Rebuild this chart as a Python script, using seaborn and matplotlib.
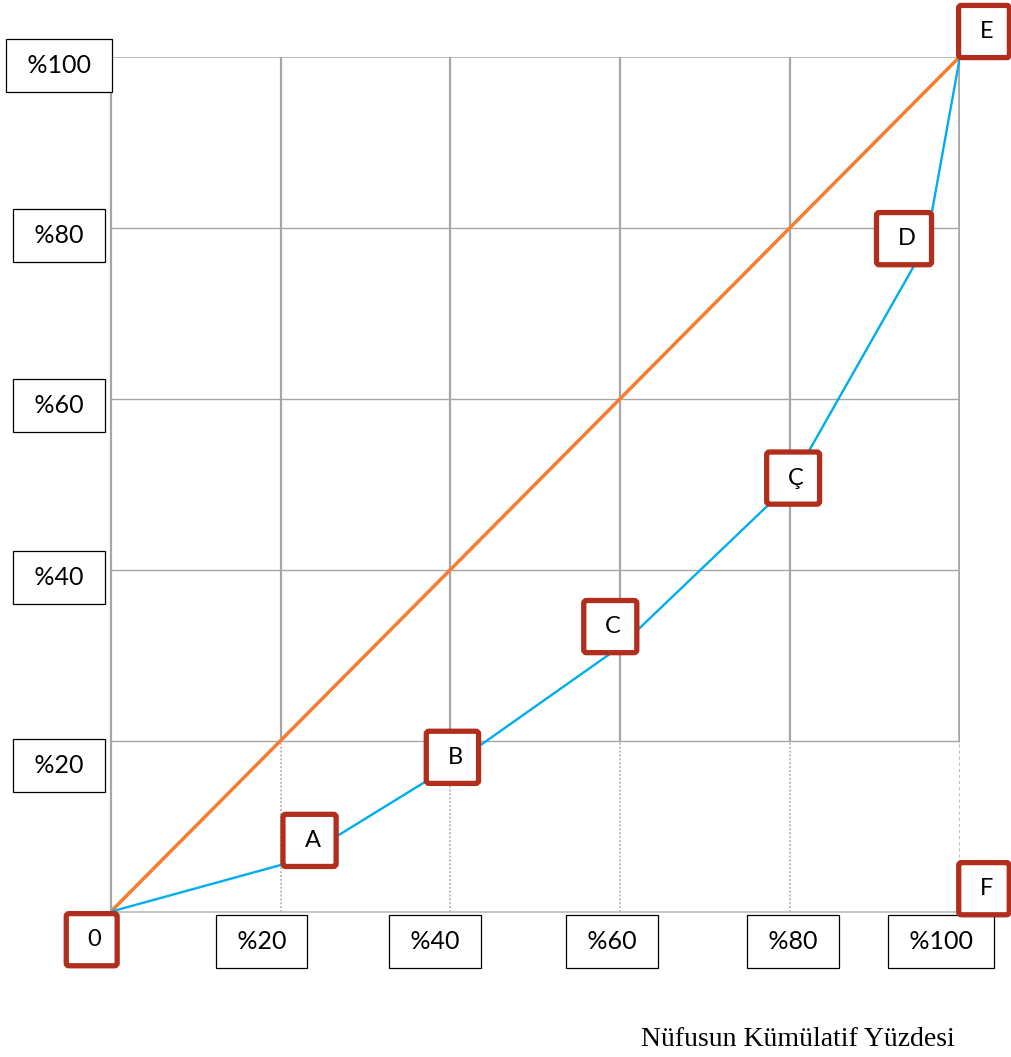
import matplotlib
matplotlib.use("Agg")
import matplotlib.pyplot as plt
import seaborn as sns
import pandas as pd

# ---- data ----
pop_cum = [0, 22, 40, 60, 80, 96, 100]          # cumulative % of population
income_cum = [0, 6, 17, 31, 50, 78, 100]        # cumulative % of income
point_labels = ["0", "A", "B", "C", "Ç", "D", "E"]
equality_x = [0, 100]
equality_y = [0, 100]
extra_label = "F"
extra_point = (100, 0)
x_ticks = [20, 40, 60, 80, 100]
x_tick_labels = ["%20", "%40", "%60", "%80", "%100"]
y_ticks = [20, 40, 60, 80, 100]
y_tick_labels = ["%20", "%40", "%60", "%80", "%100"]
x_title = "Nüfusun Kümülatif Yüzdesi"

# ---- styling ----
sns.set_theme(style="white")
plt.rcParams["font.family"] = ["Lato", "DejaVu Sans"]

W, H = 1011, 1057
fig = plt.figure(figsize=(W / 100, H / 100), dpi=100)
ax = fig.add_axes([110.7 / W, 1 - 911.7 / H, (960 - 110.7) / W, (911.7 - 56.5) / H])
ax.set_xlim(0, 100)
ax.set_ylim(0, 100)

grid_col = "#A6A6A6"
for xv in x_ticks:
    ax.plot([xv, xv], [20, 100], color=grid_col, lw=1.6 if xv < 100 else 2.6, zorder=0)
    ax.plot([xv, xv], [0, 20], color="#BDBDBD", lw=1.4 if xv < 100 else 2.2,
            ls=(0, (1, 1)), zorder=0)
for yv in y_ticks:
    ax.axhline(yv, color=grid_col, lw=1.0 if yv < 100 else 1.8, zorder=0)

for s in ["top", "right"]:
    ax.spines[s].set_visible(False)
ax.spines["left"].set_color(grid_col)
ax.spines["left"].set_linewidth(1.6)
ax.spines["bottom"].set_color("#BBBBBB")
ax.spines["bottom"].set_linewidth(1.2)
ax.spines["bottom"].set_linestyle((0, (1, 1)))
ax.set_xticks([])
ax.set_yticks([])

eq = pd.DataFrame({"x": equality_x, "y": equality_y})
lz = pd.DataFrame({"x": pop_cum, "y": income_cum})
sns.lineplot(data=eq, x="x", y="y", ax=ax, color="#F47D30", lw=2.5, zorder=2)
sns.lineplot(data=lz, x="x", y="y", ax=ax, color="#00AEEF", lw=1.7, zorder=3, sort=False)
ax.set_xlabel("")
ax.set_ylabel("")

red = "#B22E1C"
box_style = dict(boxstyle="round,pad=0.66,rounding_size=0.12", fc="white", ec=red, lw=3.8)
# label box offsets in pixels relative to each point
label_offsets = [(-19, -28), (12, 20), (2, 9), (-10, 20), (3, 6), (-22, 6), (24, 25)]
for xv, yv, lab, (dx, dy) in zip(pop_cum, income_cum, point_labels, label_offsets):
    ax.annotate(" " + lab, xy=(xv, yv), xytext=(dx, dy), textcoords="offset pixels",
                ha="center", va="center", fontsize=17, color="black", zorder=6,
                annotation_clip=False, bbox=box_style)
ax.annotate(" " + extra_label, xy=extra_point, xytext=(24, 23),
            textcoords="offset pixels", ha="center", va="center", fontsize=17,
            color="black", zorder=6, annotation_clip=False, bbox=box_style)

# tick label boxes
tick_box = dict(boxstyle="square,pad=0.6", fc="white", ec="black", lw=0.9)
x_offs = [-19, -15, -8, 3, -19]
for xv, lab, dx in zip(x_ticks, x_tick_labels, x_offs):
    ax.annotate(" " + lab + " ", xy=(xv, 0), xytext=(dx, -30), textcoords="offset pixels",
                ha="center", va="center", fontsize=18, color="black",
                annotation_clip=False, zorder=5, bbox=tick_box)
y_offs = [-25, -8, -7, -8, -9]
for yv, lab, dy in zip(y_ticks, y_tick_labels, y_offs):
    ax.annotate(" " + lab + " ", xy=(0, yv), xytext=(-52, dy), textcoords="offset pixels",
                ha="center", va="center", fontsize=18, color="black",
                annotation_clip=False, zorder=5, bbox=tick_box)

fig.text(798 / W, 1 - 1040 / H, x_title, ha="center", va="center",
         fontsize=20, family=["Liberation Serif", "DejaVu Serif"], color="black")

fig.savefig("out.png", dpi=100, facecolor="white")
